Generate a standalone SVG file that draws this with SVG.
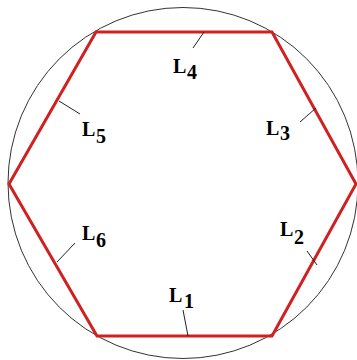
<svg xmlns="http://www.w3.org/2000/svg" width="357" height="360" viewBox="0 0 357 360">
<style>
.lbl{font-family:"Liberation Serif","Times New Roman",serif;font-weight:bold;font-size:20px;fill:#000}
.lead{stroke:#222;stroke-width:1;fill:none}
</style>
<rect width="357" height="360" fill="#fff"/>
<g id="circle"><ellipse cx="183" cy="183" rx="175" ry="175.5" fill="none" stroke="#333" stroke-width="1"/></g>
<g id="hexagon"><polygon points="96,32 272,32 356,184 272,336 97,336 9,184" fill="none" stroke="#d02020" stroke-width="3" stroke-linejoin="miter"/></g>
<g id="connectors">
<line class="lead" x1="204" y1="32" x2="193" y2="48"/>
<line class="lead" x1="188" y1="336" x2="183" y2="310"/>
<line class="lead" x1="59" y1="101" x2="80" y2="114"/>
<line class="lead" x1="57" y1="262" x2="75" y2="243"/>
<line class="lead" x1="316" y1="108" x2="300" y2="122"/>
<line class="lead" x1="317" y1="265" x2="307" y2="251"/>
</g>
<g id="L4"><text class="lbl" x="173" y="73">L<tspan x="187" y="79">4</tspan></text></g>
<g id="L1"><text class="lbl" x="169" y="302">L<tspan x="184" y="308">1</tspan></text></g>
<g id="L5"><text class="lbl" x="82" y="136">L<tspan x="96" y="143">5</tspan></text></g>
<g id="L6"><text class="lbl" x="82" y="240">L<tspan x="96" y="247">6</tspan></text></g>
<g id="L3"><text class="lbl" x="266" y="135">L<tspan x="280" y="140">3</tspan></text></g>
<g id="L2"><text class="lbl" x="280" y="236">L<tspan x="294" y="244">2</tspan></text></g>
</svg>
